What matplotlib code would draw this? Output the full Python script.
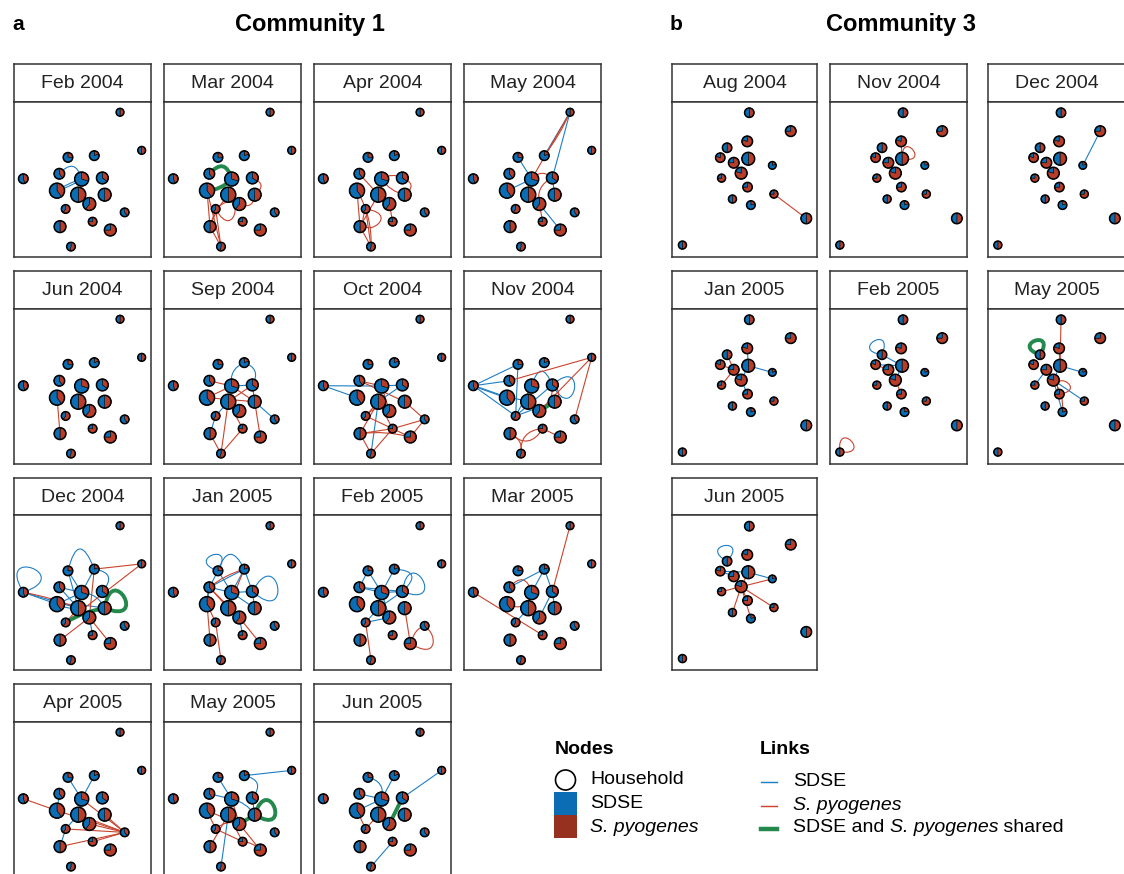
import numpy as np
import matplotlib
matplotlib.use("Agg")
import matplotlib.pyplot as plt
from matplotlib.patches import Wedge, Circle, PathPatch, Rectangle
from matplotlib.path import Path
from matplotlib.lines import Line2D

plt.rcParams['font.family'] = ['Liberation Sans', 'DejaVu Sans']

# ---- data -----------------------------------------------------------------
# community 1: node layout (fraction of panel), pie share of S. pyogenes, node radius
c1_x = [0.774, 0.932, 0.394, 0.586, 0.068, 0.331, 0.494, 0.645, 0.314,
        0.469, 0.662, 0.550, 0.377, 0.808, 0.574, 0.336, 0.703, 0.416]
c1_y = [0.932, 0.686, 0.641, 0.652, 0.503, 0.535, 0.501, 0.508, 0.426,
        0.400, 0.400, 0.340, 0.308, 0.286, 0.226, 0.194, 0.172, 0.065]
c1_red = [0.5, 0.5, 0.25, 0.2, 0.45, 0.4, 0.3, 0.35, 0.4,
          0.5, 0.5, 0.6, 0.6, 0.4, 0.75, 0.5, 0.75, 0.55]
c1_size = [3.9, 3.9, 4.8, 4.8, 4.8, 5.3, 7, 5.9, 7.5,
           7.5, 6.4, 6.4, 4.3, 4.3, 4.3, 5.9, 5.9, 4.3]

c1_months = ["Feb 2004", "Mar 2004", "Apr 2004", "May 2004",
             "Jun 2004", "Sep 2004", "Oct 2004", "Nov 2004",
             "Dec 2004", "Jan 2005", "Feb 2005", "Mar 2005",
             "Apr 2005", "May 2005", "Jun 2005"]

# links: (node, node, kind, bend) ; self loops: (node, node, kind, angle, size)
# kind: s = SDSE, p = S. pyogenes, b = both shared
c1_links = [
    # Feb 2004
    [(5, 6, 's', 0.9), (8, 6, 's', 0.08), (8, 6, 's', -0.08)],
    # Mar 2004
    [(5, 6, 'b', 0.9), (8, 6, 'b', -0.2), (8, 17, 'p', 0), (8, 15, 'p', 0),
     (12, 17, 'p', 0), (15, 17, 'p', 0), (12, 15, 'p', 0), (12, 12, 'p', -10, 42),
     (7, 10, 'p', 0.9), (10, 11, 'p', 0.7), (15, 9, 'p', 0.1)],
    # Apr 2004
    [(8, 15, 'p', 0), (8, 17, 'p', 0.15), (12, 17, 'p', 0), (15, 17, 'p', 0),
     (9, 15, 'p', 0), (12, 12, 'p', -60, 42), (6, 7, 'p', 0.3), (7, 10, 'p', 0.9),
     (9, 11, 'p', 0), (5, 9, 'p', 0), (11, 14, 'p', 0), (6, 10, 'p', -0.2)],
    # May 2004
    [(0, 3, 's', 0), (0, 3, 'p', 0.06), (0, 7, 's', 0), (0, 6, 'p', 0),
     (2, 6, 's', 0), (8, 6, 's', 0), (11, 16, 's', 0), (11, 14, 'p', 0),
     (6, 7, 'p', 0.5), (9, 11, 'p', -0.3), (7, 11, 'p', -0.4), (7, 10, 's', 0),
     (9, 6, 'p', 0.2)],
    # Jun 2004
    [(8, 15, 'p', 0)],
    # Sep 2004
    [(3, 7, 's', 0.6), (3, 6, 's', -0.4), (6, 7, 's', 0), (5, 6, 'p', 0),
     (8, 6, 'p', 0), (8, 10, 'p', 0), (9, 7, 'p', 0), (10, 13, 's', 0),
     (12, 9, 's', 0), (15, 12, 's', 0), (9, 14, 'p', 0), (10, 16, 'p', 0),
     (14, 17, 'p', 0), (15, 17, 'p', 0), (9, 17, 'p', 0), (6, 10, 'p', 0),
     (7, 10, 'p', 0)],
    # Oct 2004
    [(4, 6, 's', 0), (4, 8, 's', 0), (5, 6, 'p', 0), (5, 10, 'p', 0),
     (6, 7, 's', 0), (7, 9, 's', 0), (9, 15, 'p', 0), (9, 12, 'p', 0),
     (9, 17, 's', 0), (15, 17, 'p', 0), (17, 14, 'p', 0), (15, 14, 'p', 0),
     (12, 14, 'p', 0), (14, 16, 'p', 0), (10, 13, 'p', 0), (13, 16, 'p', 0),
     (13, 14, 'p', 0), (12, 11, 'p', 0.4), (9, 14, 'p', 0), (15, 16, 'p', 0.1),
     (6, 11, 'p', 0)],
    # Nov 2004
    [(4, 2, 's', 0), (4, 5, 's', 0), (4, 8, 's', 0.03), (4, 8, 's', -0.03),
     (4, 12, 's', 0), (2, 12, 's', 0), (12, 7, 's', 0), (12, 10, 's', 0),
     (12, 6, 's', 0), (7, 7, 's', -10, 48), (6, 7, 's', 1.4), (8, 11, 's', 0.2),
     (1, 5, 'p', 0), (1, 11, 'p', 0), (1, 13, 'p', 0), (11, 7, 'p', -0.3),
     (7, 10, 'p', 0.6), (15, 17, 'p', 0.4), (17, 14, 'p', 0.5), (14, 16, 'p', 0),
     (15, 14, 'p', -0.6), (11, 10, 'b', 0)],
    # Dec 2004
    [(4, 4, 's', 70, 55), (2, 3, 's', 1.6), (3, 7, 's', 0.9), (4, 8, 's', 0),
     (4, 9, 's', 0), (5, 6, 's', 0), (2, 6, 's', 0), (5, 9, 's', 0),
     (8, 6, 's', 0), (8, 9, 's', 0.15), (8, 9, 's', -0.15), (2, 9, 's', 0),
     (3, 6, 's', 0), (11, 14, 's', 0), (8, 10, 's', 0.05), (6, 10, 's', 0.3),
     (4, 9, 'p', 0.05), (1, 3, 'p', 0), (1, 12, 'p', 0), (3, 11, 'p', 0),
     (11, 15, 'p', 0), (11, 16, 'p', 0), (9, 12, 'p', 0),
     (12, 10, 'b', 0.1), (10, 10, 'b', 30, 48)],
    # Jan 2005
    [(7, 7, 's', 10, 55), (2, 3, 's', 1.2), (5, 2, 's', 0), (5, 3, 's', 0),
     (5, 6, 's', 0), (2, 6, 's', 0), (3, 6, 's', 0), (3, 7, 's', 0),
     (6, 7, 's', 0), (8, 5, 's', 0), (11, 14, 's', 0), (9, 11, 's', 0),
     (6, 10, 's', 0), (10, 7, 's', 0), (2, 2, 's', 110, 36),
     (5, 3, 'p', 0.1), (5, 11, 'p', 0), (8, 12, 'p', 0), (8, 15, 'p', 0),
     (12, 17, 'p', 0), (9, 11, 'p', 0.1), (11, 16, 'p', 0), (8, 5, 'p', 0.1),
     (3, 9, 'p', 0), (5, 9, 'p', 0)],
    # Feb 2005
    [(2, 5, 's', 0), (2, 6, 's', 0), (3, 7, 's', 1.2), (7, 7, 's', 30, 50),
     (5, 6, 's', 0), (5, 7, 's', 0), (6, 7, 's', 0), (7, 9, 's', 0),
     (9, 12, 's', 0), (12, 11, 's', 0), (6, 11, 's', 0), (3, 6, 's', 0),
     (10, 16, 'p', 0), (16, 16, 'p', 20, 50), (12, 17, 'p', 0)],
    # Mar 2005
    [(0, 7, 'p', 0), (4, 14, 'p', 0), (5, 6, 'p', 0.9), (8, 6, 'p', -0.6),
     (3, 5, 's', 0), (3, 6, 's', 0), (3, 7, 's', 0), (7, 11, 's', 0),
     (9, 12, 's', 0), (7, 10, 's', 0)],
    # Apr 2005
    [(4, 8, 'p', 0), (13, 8, 'p', 0), (13, 9, 'p', 0), (13, 12, 'p', 0),
     (13, 15, 'p', 0), (13, 11, 'p', 0), (13, 6, 'p', 0), (13, 14, 'p', 0),
     (13, 10, 'p', 0), (2, 6, 's', 0), (3, 6, 's', 0), (9, 12, 's', 0),
     (5, 8, 's', 0), (6, 9, 's', 0), (12, 15, 's', 0)],
    # May 2005
    [(1, 3, 's', 0), (9, 17, 's', 0), (2, 6, 's', 0), (3, 7, 's', 0.8),
     (7, 10, 's', 0), (5, 6, 's', 0), (6, 10, 's', 0.2),
     (10, 10, 'b', 20, 45), (10, 11, 'b', 0),
     (8, 11, 'p', 0), (9, 14, 'p', 0), (12, 14, 'p', 0), (11, 16, 'p', 0),
     (9, 15, 'p', 0), (6, 11, 'p', 0), (8, 12, 'p', 0), (12, 11, 'p', 0.3),
     (14, 16, 'p', 0.2)],
    # Jun 2005
    [(1, 7, 's', 0), (5, 6, 's', 0), (17, 14, 's', 0), (3, 6, 's', 0),
     (8, 6, 's', 0), (2, 6, 's', 0.5), (9, 11, 's', 0), (7, 11, 'b', 0),
     (8, 12, 'p', 0), (9, 12, 'p', 0), (6, 9, 'p', 0)],
]

# community 3
c3_x = [0.533, 0.819, 0.519, 0.380, 0.333, 0.526, 0.426, 0.692,
        0.477, 0.342, 0.521, 0.703, 0.417, 0.544, 0.926, 0.072]
c3_y = [0.929, 0.810, 0.744, 0.703, 0.639, 0.632, 0.606, 0.589,
        0.539, 0.507, 0.449, 0.404, 0.372, 0.333, 0.247, 0.075]
c3_red = [0.5, 0.75, 0.8, 0.5, 0.8, 0.5, 0.75, 0.2,
          0.8, 0.75, 0.75, 0.75, 0.5, 0.2, 0.5, 0.5]
c3_size = [4.7, 5.3, 5.3, 4.7, 4.7, 6.4, 5.3, 3.8,
           5.9, 4, 4.7, 4, 4, 4.3, 5.3, 4]

c3_months = ["Aug 2004", "Nov 2004", "Dec 2004",
             "Jan 2005", "Feb 2005", "May 2005", "Jun 2005"]

c3_links = [
    # Aug 2004
    [(11, 14, 'p', 0), (6, 8, 'p', 0)],
    # Nov 2004
    [(2, 5, 's', 0), (5, 5, 'p', 40, 30)],
    # Dec 2004
    [(1, 7, 's', 0)],
    # Jan 2005
    [(2, 5, 's', 0), (5, 8, 's', 0), (6, 8, 's', 0), (4, 6, 'p', 0),
     (3, 6, 'p', 0), (6, 9, 'p', 0), (8, 10, 's', 0), (5, 7, 's', 0)],
    # Feb 2005
    [(3, 3, 's', 120, 34), (3, 5, 's', 0), (4, 5, 's', 0), (5, 8, 's', 0),
     (8, 10, 'p', 0), (4, 6, 'p', 0), (15, 15, 'p', 45, 34)],
    # May 2005
    [(3, 3, 'b', 110, 32), (0, 5, 'p', 0), (2, 5, 'p', 0), (5, 7, 's', 0),
     (8, 11, 's', 0), (10, 10, 'p', 60, 30), (8, 13, 's', 0), (6, 9, 's', 0),
     (8, 13, 'p', 0.2), (5, 8, 's', 0)],
    # Jun 2005
    [(3, 3, 's', 100, 34), (8, 11, 'p', 0), (8, 13, 'p', 0), (5, 8, 'p', 0),
     (6, 8, 'p', 0), (9, 8, 'p', 0), (12, 8, 'p', 0), (8, 10, 'p', 0),
     (5, 7, 's', 0), (4, 6, 's', 0), (7, 8, 'p', 0), (4, 5, 's', 0)],
]

# ---- styles ----------------------------------------------------------------
BLUE = '#0b6db3'
RED = '#b73d28'
LEG_RED = '#96301f'
link_style = {'s': ('#1f7fc4', 0.8), 'p': ('#c9442d', 0.8), 'b': ('#24894c', 2.8)}
EDGE = '#333333'

FW, FH = 1124, 874
fig = plt.figure(figsize=(FW / 100, FH / 100), dpi=100)


def add_px_axes(x, y, w, h):
    return fig.add_axes([x / FW, 1 - (y + h) / FH, w / FW, h / FH])


def link_path(a, b, bend, size):
    if np.allclose(a, b):
        ang = np.deg2rad(bend)
        c1 = a + size * np.array([np.cos(ang - 0.9), np.sin(ang - 0.9)])
        c2 = a + size * np.array([np.cos(ang + 0.9), np.sin(ang + 0.9)])
        return Path([a, c1, c2, a], [Path.MOVETO, Path.CURVE4, Path.CURVE4, Path.CURVE4])
    d = b - a
    ctrl = (a + b) / 2 + bend * np.array([-d[1], d[0]])
    return Path([a, ctrl, b], [Path.MOVETO, Path.CURVE3, Path.CURVE3])


def draw_panel(x, y, w, month, xs, ys, reds, sizes, links):
    hh, ph = 37.7, 155
    hax = add_px_axes(x, y, w, hh)
    hax.set_xticks([])
    hax.set_yticks([])
    hax.text(0.5, 0.48, month, ha='center', va='center', fontsize=14,
             color='#222222', transform=hax.transAxes)
    ax = add_px_axes(x, y + hh, w, ph)
    ax.set_xlim(0, w)
    ax.set_ylim(0, ph)
    ax.set_xticks([])
    ax.set_yticks([])
    for a in (hax, ax):
        for sp in a.spines.values():
            sp.set_color(EDGE)
            sp.set_linewidth(1.1)
    pos = np.column_stack([np.array(xs) * w, np.array(ys) * ph])
    for lk in links:
        i, j, kind, bend = lk[:4]
        size = lk[4] if len(lk) > 4 else 30
        col, lw = link_style[kind]
        ax.add_patch(PathPatch(link_path(pos[i], pos[j], bend, size),
                               facecolor='none', edgecolor=col, lw=lw,
                               zorder=2, capstyle='round'))
    for (cx, cy), fr, r in zip(pos, reds, sizes):
        ax.add_patch(Wedge((cx, cy), r, 90 - fr * 360, 90, facecolor=RED,
                           edgecolor='black', lw=0.4, zorder=3))
        ax.add_patch(Wedge((cx, cy), r, 90, 450 - fr * 360, facecolor=BLUE,
                           edgecolor='black', lw=0.4, zorder=3))
        ax.add_patch(Circle((cx, cy), r, facecolor='none', edgecolor='black',
                            lw=1.1, zorder=4))


row_top = [64, 271, 477.5, 684]
c1_left = [14, 164, 314, 464]
for k, month in enumerate(c1_months):
    draw_panel(c1_left[k % 4], row_top[k // 4], 137, month,
               c1_x, c1_y, c1_red, c1_size, c1_links[k])

c3_left = [672, 830, 988]
c3_width = [145, 137, 137]
for k, month in enumerate(c3_months):
    draw_panel(c3_left[k % 3], row_top[k // 3], c3_width[k % 3], month,
               c3_x, c3_y, c3_red, c3_size, c3_links[k])

# ---- titles and legend (pixel overlay) -------------------------------------
ov = fig.add_axes([0, 0, 1, 1], zorder=10)
ov.set_xlim(0, FW)
ov.set_ylim(FH, 0)
ov.axis('off')
ov.patch.set_alpha(0)

ov.text(12, 24, 'a', fontsize=15, fontweight='bold', va='center')
ov.text(670, 24, 'b', fontsize=15, fontweight='bold', va='center')
ov.text(310, 24, 'Community 1', fontsize=17, fontweight='bold', ha='center', va='center')
ov.text(901, 24, 'Community 3', fontsize=17, fontweight='bold', ha='center', va='center')

ov.text(555, 750, 'Nodes', fontsize=14, fontweight='bold', va='center')
ov.add_patch(Circle((565.5, 780), 10, facecolor='white', edgecolor='black', lw=1.2))
ov.add_patch(Rectangle((554, 792), 23, 23, facecolor=BLUE, edgecolor='none'))
ov.add_patch(Rectangle((554, 815), 23, 23, facecolor=LEG_RED, edgecolor='none'))
ov.text(590, 780, 'Household', fontsize=14, va='center')
ov.text(590, 803, 'SDSE', fontsize=14, va='center')
ov.text(590, 827, 'S. pyogenes', fontsize=14, style='italic', va='center')

ov.text(760, 750, 'Links', fontsize=14, fontweight='bold', va='center')
for yy, kind in zip([782, 806, 829], ['s', 'p', 'b']):
    col, lw = link_style[kind]
    ov.add_line(Line2D([761, 777], [yy, yy], color=col, lw=lw * 1.3 if kind != 'b' else 3.2))
ov.text(793, 781, 'SDSE', fontsize=14, va='center')
ov.text(793, 805, 'S. pyogenes', fontsize=14, style='italic', va='center')

# mixed upright / italic label, placed piece by piece
renderer = fig.canvas.get_renderer()
xpos = 793
for piece, st in [('SDSE and ', 'normal'), ('S. pyogenes', 'italic'), (' shared', 'normal')]:
    t = ov.text(xpos, 828, piece, fontsize=14, style=st, va='center')
    bb = t.get_window_extent(renderer=renderer)
    xpos += bb.width

fig.savefig('out.png', dpi=100)
